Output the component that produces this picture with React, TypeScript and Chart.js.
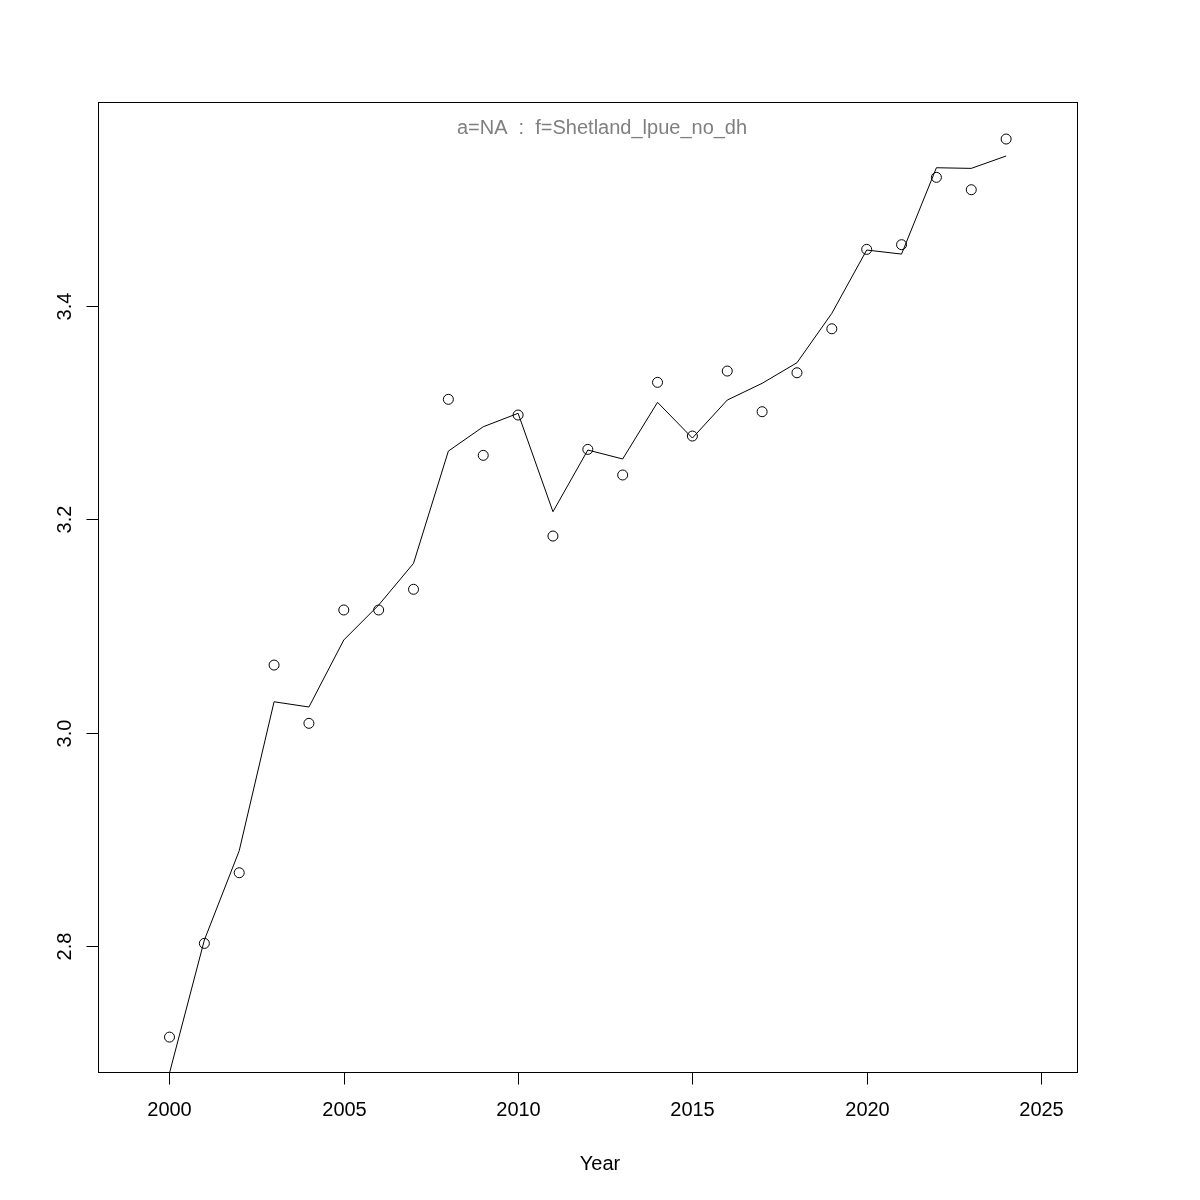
import React, { useEffect, useRef } from "react";
import { Chart, registerables } from "chart.js";

Chart.register(...registerables);

const years = [2000, 2001, 2002, 2003, 2004, 2005, 2006, 2007, 2008, 2009, 2010, 2011, 2012,
  2013, 2014, 2015, 2016, 2017, 2018, 2019, 2020, 2021, 2022, 2023, 2024];

const observed = [2.7147, 2.8025, 2.8687, 3.0633, 3.0087, 3.1149, 3.1149, 3.1343, 3.3123, 3.2598,
  3.2976, 3.1842, 3.2654, 3.2414, 3.3282, 3.2779, 3.3388, 3.3007, 3.3372, 3.3784, 3.4528, 3.4572,
  3.5203, 3.5087, 3.5562];

const fitted = [2.681, 2.8056, 2.8893, 3.0289, 3.024, 3.0868, 3.1195, 3.1586, 3.2638, 3.2866,
  3.2992, 3.207, 3.2648, 3.2564, 3.3095, 3.276, 3.3116, 3.3273, 3.3466, 3.3929, 3.4522, 3.4484,
  3.5293, 3.5287, 3.5403];

const xTicks = [2000, 2005, 2010, 2015, 2020, 2025];
const yTicks = [2.8, 3.0, 3.2, 3.4];
const yTickLabels = ["2.8", "3.0", "3.2", "3.4"];

const titleText = "a=NA  :  f=Shetland_lpue_no_dh";
const xLabel = "Year";

const FONT = '"Liberation Sans", Arial, Helvetica, sans-serif';

const rAxesPlugin = {
  id: "rAxes",
  afterDraw(chart: any) {
    const ctx = chart.ctx;
    const area = chart.chartArea;
    const xs = chart.scales.x;
    const ys = chart.scales.y;
    ctx.save();
    ctx.strokeStyle = "#000";
    ctx.lineWidth = 1;
    // box
    ctx.strokeRect(area.left + 0.5, area.top + 0.5, area.right - area.left, area.bottom - area.top);
    ctx.fillStyle = "#000";
    ctx.font = `20px ${FONT}`;
    // x ticks
    ctx.textAlign = "center";
    ctx.textBaseline = "alphabetic";
    xTicks.forEach((v) => {
      const px = Math.round(xs.getPixelForValue(v)) + 0.5;
      ctx.beginPath();
      ctx.moveTo(px, area.bottom + 0.5);
      ctx.lineTo(px, area.bottom + 12.5);
      ctx.stroke();
      ctx.fillText(String(v), px, area.bottom + 44);
    });
    // y ticks
    yTicks.forEach((v, i) => {
      const py = Math.round(ys.getPixelForValue(v)) + 0.5;
      ctx.beginPath();
      ctx.moveTo(area.left + 0.5, py);
      ctx.lineTo(area.left - 11.5, py);
      ctx.stroke();
      ctx.save();
      ctx.translate(area.left - 27.5, py);
      ctx.rotate(-Math.PI / 2);
      ctx.textAlign = "center";
      ctx.textBaseline = "alphabetic";
      ctx.fillText(yTickLabels[i], 0, 0);
      ctx.restore();
    });
    // x label
    ctx.textAlign = "center";
    ctx.fillText(xLabel, 600, 1169.5);
    // title
    ctx.fillStyle = "#7f7f7f";
    ctx.fillText(titleText, 602, 134);
    ctx.restore();
  },
};

export default function App() {
  const ref = useRef<HTMLCanvasElement | null>(null);
  useEffect(() => {
    if (!ref.current) return;
    const chart = new Chart(ref.current, {
      type: "scatter",
      data: {
        datasets: [
          {
            type: "line",
            label: "fitted",
            data: years.map((y, i) => ({ x: y, y: fitted[i] })),
            borderColor: "#000",
            borderWidth: 1,
            pointRadius: 0,
            fill: false,
            tension: 0,
          } as any,
          {
            type: "scatter",
            label: "observed",
            data: years.map((y, i) => ({ x: y, y: observed[i] })),
            borderColor: "#000",
            backgroundColor: "rgba(0,0,0,0)",
            borderWidth: 1,
            pointRadius: 5,
            pointStyle: "circle",
            showLine: false,
          },
        ],
      },
      options: {
        animation: false,
        responsive: false,
        devicePixelRatio: 1,
        layout: { padding: { left: 98, top: 102, right: 123, bottom: 128 } },
        plugins: {
          legend: { display: false },
          tooltip: { enabled: false },
          title: { display: false },
        },
        scales: {
          x: { type: "linear", min: 1997.949, max: 2026.033, display: false },
          y: { type: "linear", min: 2.682, max: 3.5909, display: false },
        },
      },
      plugins: [rAxesPlugin],
    });
    return () => chart.destroy();
  }, []);
  return (
    <div style={{ position: "absolute", left: 0, top: 0, width: 1200, height: 1200, background: "#fff" }}>
      <canvas ref={ref} width={1200} height={1200} style={{ width: 1200, height: 1200 }} />
    </div>
  );
}
